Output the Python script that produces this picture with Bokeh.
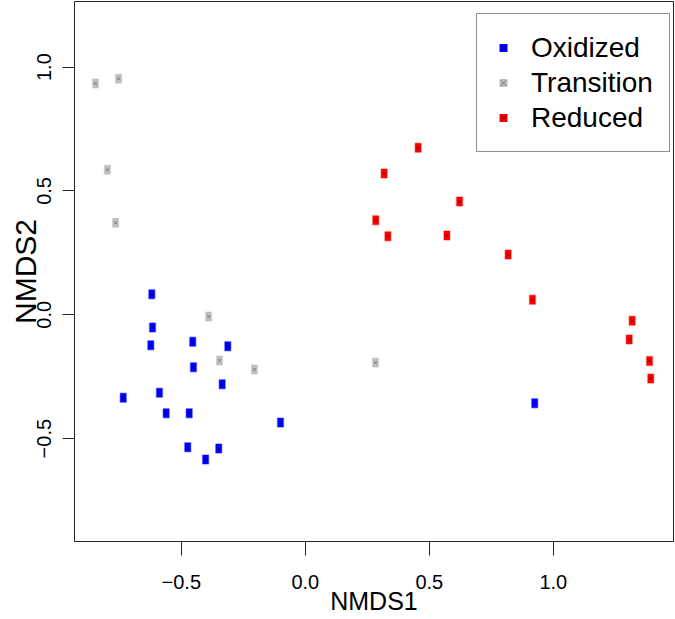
from bokeh.plotting import figure
from bokeh.models import Range1d, FixedTicker, Legend, LegendItem, CustomJSTickFormatter, ColumnDataSource
from bokeh.embed import file_html
from bokeh.resources import INLINE

# ---- data ----
ox_x = [-0.619, -0.616, -0.623, -0.454, -0.3125, -0.451, -0.335, -0.734, -0.588, -0.561, -0.468, -0.100, -0.474, -0.349, -0.402, 0.925]
ox_y = [0.083, -0.051, -0.123, -0.109, -0.127, -0.2115, -0.280, -0.335, -0.315, -0.397, -0.397, -0.435, -0.5345, -0.540, -0.584, -0.357]

tr_x = [-0.846, -0.753, -0.798, -0.765, -0.390, -0.346, -0.205, 0.283]
tr_y = [0.934, 0.953, 0.586, 0.372, -0.007, -0.184, -0.221, -0.193]

rd_x = [0.455, 0.318, 0.622, 0.284, 0.333, 0.571, 0.818, 0.916, 1.318, 1.306, 1.388, 1.393]
rd_y = [0.674, 0.570, 0.457, 0.382, 0.317, 0.320, 0.243, 0.061, -0.024, -0.100, -0.186, -0.257]

groups = ["Oxidized", "Transition", "Reduced"]
colors = ["#0000FF", "#BEBEBE", "#FF0000"]
inner = ["#000022", "#555555", "#220000"]

x_ticks = [-0.5, 0.0, 0.5, 1.0]
y_ticks = [-0.5, 0.0, 0.5, 1.0]

FONT = "Liberation Sans"

p = figure(width=675, height=619,
           x_range=Range1d(-0.9306, 1.4847), y_range=Range1d(-0.9152, 1.2649),
           output_backend="svg", toolbar_location=None,
           min_border_left=74, min_border_right=2, min_border_top=1, min_border_bottom=78,
           x_axis_label="NMDS1", y_axis_label="NMDS2")

p.xgrid.visible = False
p.ygrid.visible = False
p.outline_line_color = "#222222"
p.outline_line_width = 1
p.background_fill_color = "white"
p.border_fill_color = "white"

fmt = CustomJSTickFormatter(code="return (tick < 0 ? '\\u2212' : '') + Math.abs(tick).toFixed(1);")

for ax, ticks in ((p.xaxis[0], x_ticks), (p.yaxis[0], y_ticks)):
    ax.ticker = FixedTicker(ticks=ticks)
    ax.formatter = fmt
    ax.axis_line_color = None
    ax.major_tick_in = 0
    ax.minor_tick_line_color = None
    ax.major_tick_line_color = "#222222"
    ax.major_label_text_color = "black"
    ax.major_label_text_font = FONT
    ax.axis_label_text_font = FONT
    ax.axis_label_text_font_style = "normal"
    ax.axis_label_text_color = "black"

p.xaxis.major_tick_out = 14
p.xaxis.major_label_text_font_size = "20px"
p.xaxis.major_label_standoff = 19
p.xaxis.axis_label_text_font_size = "25px"
p.xaxis.axis_label_standoff = -5

p.yaxis.major_tick_out = 12
p.yaxis.major_label_orientation = "vertical"
p.yaxis.major_label_text_font_size = "20px"
p.yaxis.major_label_standoff = 11
p.yaxis.axis_label_text_font_size = "30px"
p.yaxis.axis_label_standoff = -7

items = []
for name, xs, ys, c, ic in zip(groups, (ox_x, tr_x, rd_x), (ox_y, tr_y, rd_y), colors, inner):
    src = ColumnDataSource(dict(x=xs, y=ys))
    p.rect("x", "y", width=6, height=9, width_units="screen", height_units="screen",
           source=src, fill_color=c, line_color=c, line_alpha=0.35, line_width=1.5)
    # small square hidden inside each rect; it supplies the legend glyph
    sq = p.scatter("x", "y", source=src, marker="square", size=5, fill_color=c, line_color=None)
    xx = p.scatter("x", "y", source=src, marker="x", size=4, line_color=ic, line_alpha=0.6, line_width=1)
    items.append(LegendItem(label=name, renderers=[sq, xx]))

legend = Legend(items=items, location=(402, 389),
                label_text_font=FONT, label_text_font_size="28px", label_text_color="black",
                glyph_width=20, glyph_height=35, label_height=35, spacing=0,
                padding=16, label_standoff=18,
                border_line_color="#222222", border_line_width=1,
                background_fill_color="white", background_fill_alpha=1.0)
p.add_layout(legend, "center")

open("out.html", "w").write(file_html(p, INLINE))
